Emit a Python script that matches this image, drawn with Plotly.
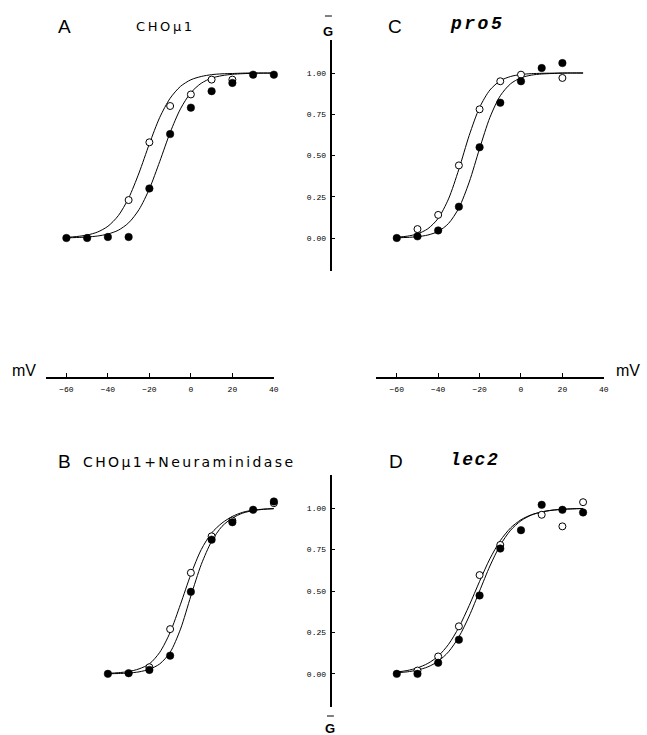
import plotly.graph_objects as go

W, H = 647, 735

# ---------------- data ----------------
# Panel A: CHOmu1
A_filled_v = [-60, -50, -40, -30, -20, -10, 0, 10, 20, 30, 40]
A_filled_g = [0.00, 0.00, 0.006, 0.006, 0.30, 0.63, 0.79, 0.89, 0.94, 0.99, 0.99]
A_open_v = [-30, -20, -10, 0, 10, 20]
A_open_g = [0.23, 0.58, 0.80, 0.87, 0.96, 0.96]

# Panel B: CHOmu1 + Neuraminidase
B_filled_v = [-40, -30, -20, -10, 0, 10, 20, 30, 40]
B_filled_g = [0.00, 0.004, 0.024, 0.11, 0.495, 0.81, 0.915, 0.99, 1.04]
B_open_v = [-20, -10, 0, 10, 20, 40]
B_open_g = [0.04, 0.27, 0.61, 0.83, 0.925, 1.03]

# Panel C: pro5
C_filled_v = [-60, -50, -40, -30, -20, -10, 0, 10, 20]
C_filled_g = [0.00, 0.01, 0.046, 0.19, 0.55, 0.82, 0.95, 1.03, 1.06]
C_open_v = [-50, -40, -30, -20, -10, 0, 20]
C_open_g = [0.054, 0.14, 0.44, 0.78, 0.95, 0.99, 0.97]

# Panel D: lec2
D_filled_v = [-60, -50, -40, -30, -20, -10, 0, 10, 20, 30]
D_filled_g = [0.00, 0.00, 0.067, 0.206, 0.473, 0.756, 0.867, 1.02, 0.99, 0.974]
D_open_v = [-50, -40, -30, -20, -10, 10, 20, 30]
D_open_g = [0.02, 0.105, 0.287, 0.596, 0.778, 0.96, 0.89, 1.036]

# Fitted curves (every 5 mV)
A_curve_v = [-60, -55, -50, -45, -40, -35, -30, -25, -20, -15, -10, -5, 0, 5, 10, 15, 20, 25, 30, 35, 40]
A_curve_open = [0.004, 0.009, 0.018, 0.036, 0.071, 0.135, 0.242, 0.394, 0.571, 0.731, 0.847, 0.919,
                0.959, 0.979, 0.990, 0.995, 0.997, 0.999, 1.0, 1.0, 1.0]
A_curve_filled = [0.001, 0.003, 0.006, 0.012, 0.024, 0.047, 0.092, 0.172, 0.298, 0.464, 0.639, 0.783,
                  0.881, 0.938, 0.969, 0.984, 0.992, 0.996, 0.998, 0.999, 0.999]

B_curve_v = [-40, -35, -30, -25, -20, -15, -10, -5, 0, 5, 10, 15, 20, 25, 30, 35, 40]
B_curve_open = [0.003, 0.007, 0.014, 0.03, 0.06, 0.13, 0.25, 0.42, 0.60, 0.75, 0.85, 0.91, 0.95,
                0.975, 0.988, 0.994, 0.997]
B_curve_filled = [0.001, 0.002, 0.005, 0.012, 0.028, 0.06, 0.13, 0.27, 0.47, 0.66, 0.80, 0.89, 0.94,
                  0.97, 0.985, 0.993, 0.997]

C_curve_v = [-60, -55, -50, -45, -40, -35, -30, -25, -20, -15, -10, -5, 0, 5, 10, 15, 20, 25, 30]
C_curve_open = [0.005, 0.011, 0.025, 0.056, 0.119, 0.237, 0.417, 0.622, 0.791, 0.897, 0.953, 0.979,
                0.991, 0.996, 0.998, 0.999, 1.0, 1.0, 1.0]
C_curve_filled = [0.0015, 0.0034, 0.008, 0.018, 0.040, 0.088, 0.182, 0.339, 0.542, 0.731, 0.862, 0.935,
                  0.971, 0.987, 0.994, 0.997, 0.999, 1.0, 1.0]

D_curve_v = [-60, -55, -50, -45, -40, -35, -30, -25, -20, -15, -10, -5, 0, 5, 10, 15, 20, 25, 30]
D_curve_open = [0.011, 0.020, 0.036, 0.063, 0.107, 0.178, 0.281, 0.413, 0.558, 0.695, 0.804, 0.881,
                0.930, 0.960, 0.977, 0.987, 0.993, 0.996, 0.998]
D_curve_filled = [0.007, 0.012, 0.023, 0.042, 0.076, 0.133, 0.223, 0.349, 0.5, 0.651, 0.777, 0.867,
                  0.924, 0.958, 0.977, 0.988, 0.993, 0.996, 0.998]

x_ticks = [-60, -40, -20, 0, 20, 40]
y_ticks = [0, 0.25, 0.5, 0.75, 1.0]
y_tick_text = ["0.00", "0.25", "0.50", "0.75", "1.00"]

# ---------------- figure ----------------
def px(x):
    return x / W

def py(y):
    return 1 - y / H

fig = go.Figure()

panels = [
    ("x", "y", A_curve_v, A_curve_open, A_curve_filled, A_open_v, A_open_g, A_filled_v, A_filled_g),
    ("x", "y2", B_curve_v, B_curve_open, B_curve_filled, B_open_v, B_open_g, B_filled_v, B_filled_g),
    ("x2", "y", C_curve_v, C_curve_open, C_curve_filled, C_open_v, C_open_g, C_filled_v, C_filled_g),
    ("x2", "y2", D_curve_v, D_curve_open, D_curve_filled, D_open_v, D_open_g, D_filled_v, D_filled_g),
]

for xa, ya, cv, co, cf, ov, og, fv, fg in panels:
    for curve in (co, cf):
        fig.add_trace(go.Scatter(x=cv, y=curve, mode="lines", xaxis=xa, yaxis=ya,
                                 line=dict(color="black", width=1, shape="spline", smoothing=0.8),
                                 hoverinfo="skip", showlegend=False, cliponaxis=False))
    fig.add_trace(go.Scatter(x=ov, y=og, mode="markers", xaxis=xa, yaxis=ya,
                             marker=dict(size=7, color="white", line=dict(color="black", width=1)),
                             showlegend=False, cliponaxis=False))
    fig.add_trace(go.Scatter(x=fv, y=fg, mode="markers", xaxis=xa, yaxis=ya,
                             marker=dict(size=7.5, color="black", line=dict(color="black", width=0.5)),
                             showlegend=False, cliponaxis=False))

tickfont = dict(family="Liberation Mono", size=8, color="black")
xcommon = dict(range=[-70, 40], anchor="free", position=py(378), showline=True, linecolor="black",
               linewidth=1.5, ticks="inside", ticklen=4, tickwidth=1, tickcolor="black",
               tickvals=x_ticks, tickfont=tickfont, showgrid=False, zeroline=False,
               ticklabelstandoff=4, fixedrange=True)
ycommon = dict(range=[-0.2, 1.2], anchor="free", position=px(334), showline=True, linecolor="black",
               linewidth=1.5, ticks="inside", ticklen=3, tickwidth=1, tickcolor="black",
               tickvals=y_ticks, ticktext=y_tick_text, tickfont=tickfont, showgrid=False,
               zeroline=False, ticklabelstandoff=3, fixedrange=True)

fig.update_layout(
    width=W, height=H,
    margin=dict(l=0, r=0, t=0, b=0),
    paper_bgcolor="white", plot_bgcolor="rgba(0,0,0,0)",
    xaxis=dict(domain=[px(46), px(276)], **xcommon),
    xaxis2=dict(domain=[px(379), px(608.5)], **xcommon),
    yaxis=dict(domain=[py(271), py(40)], **ycommon),
    yaxis2=dict(domain=[py(707), py(475)], **ycommon),
)

sans = "Liberation Sans"
dsans = "DejaVu Sans"
annos = [
    dict(text="A", x=64.5, y=26, size=19, family=sans, anchor="center"),
    dict(text='<span style="letter-spacing:2.6px">CHOμ1</span>', x=135, y=26.5, size=13, family=dsans, anchor="left"),
    dict(text="C", x=398.5, y=26, size=19, family=sans, anchor="center"),
    dict(text='<span style="letter-spacing:2.5px"><b><i>pro5</i></b></span>', x=451, y=24.5, size=18, family="Liberation Mono", anchor="left"),
    dict(text="B", x=65, y=461, size=19, family=sans, anchor="center"),
    dict(text='<span style="letter-spacing:2.4px">CHOμ1+Neuraminidase</span>', x=82, y=462, size=14, family=dsans, anchor="left"),
    dict(text="D", x=399, y=461, size=19, family=sans, anchor="center"),
    dict(text='<span style="letter-spacing:1.5px"><b><i>lec2</i></b></span>', x=451, y=460, size=18, family="Liberation Mono", anchor="left"),
    dict(text="mV", x=24.5, y=370, size=16, family=sans, anchor="center"),
    dict(text="mV", x=633, y=370, size=16, family=sans, anchor="center"),
    dict(text="<b>G</b>", x=331, y=31, size=13, family=sans, anchor="center"),
    dict(text="<b>G</b>", x=333, y=728, size=13, family=sans, anchor="center"),
]
for a in annos:
    fig.add_annotation(text=a["text"], x=px(a["x"]), y=py(a["y"]), xref="paper", yref="paper",
                       xanchor=a["anchor"], yanchor="middle", showarrow=False,
                       font=dict(family=a["family"], size=a["size"], color="black"))

# overbars on the G labels
for cx, yy in ((331, 16), (333, 716)):
    fig.add_shape(type="line", xref="paper", yref="paper", x0=px(cx - 3.5), x1=px(cx + 3.5),
                  y0=py(yy), y1=py(yy), line=dict(color="black", width=1))

fig.write_html("out.html")
